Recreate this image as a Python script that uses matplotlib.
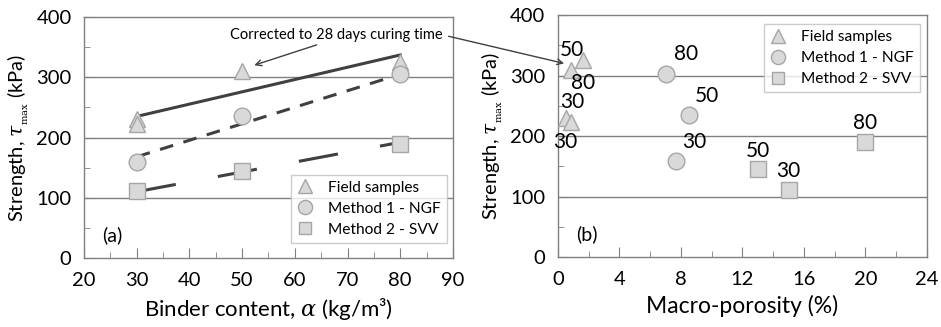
import numpy as np
import matplotlib
matplotlib.use('Agg')
import matplotlib.pyplot as plt
from matplotlib.patches import ConnectionPatch
from matplotlib.ticker import MultipleLocator

plt.rcParams['font.family'] = ['Lato', 'DejaVu Sans']
plt.rcParams['mathtext.fontset'] = 'dejavuserif'

# panel (a): strength vs binder content
binder_field = [30, 30, 50, 80]
field_a = [230, 222, 310, 325]
binder_m = [30, 50, 80]
ngf_a = [160, 235, 305]
svv_a = [112, 145, 190]

# trend lines (corrected to 28 days)
trend_x = [30, 80]
trend_field = [235, 337]
trend_ngf = [168, 305]
trend_svv = [110, 192]

# panel (b): strength vs macro-porosity
poro_field = [0.55, 0.87, 0.87, 1.65]
field_b = [230, 223, 309, 325]
field_lbl = ['30', '30', '50', '80']
field_lbl_xy = [(0.5, 190), (0.9, 257), (0.9, 343), (1.65, 287)]
poro_ngf = [7.7, 8.5, 7.05]
ngf_b = [159, 234, 303]
ngf_lbl = ['30', '50', '80']
ngf_lbl_xy = [(8.85, 190), (9.7, 266), (8.3, 335)]
poro_svv = [15.0, 13.0, 20.0]
svv_b = [110, 145, 190]
svv_lbl = ['30', '50', '80']
svv_lbl_xy = [(15.0, 143), (13.0, 176), (20.0, 222)]

fill = '#d9d9d9'
edge = '#a6a6a6'
dark = '#404040'
grey = '#808080'

fig = plt.figure(figsize=(9.41, 3.27), dpi=100)
ax1 = fig.add_axes([0.0893, 0.211, 0.392, 0.737])
ax2 = fig.add_axes([0.593, 0.214, 0.392, 0.740])

def style(ax):
    for s in ax.spines.values():
        s.set_color(grey)
        s.set_linewidth(1.0)
    ax.tick_params(which='both', direction='in', color=grey, labelsize=14.5,
                   top=False, right=False)
    ax.tick_params(axis='x', pad=10)
    ax.tick_params(axis='y', pad=9)
    ax.tick_params(which='major', length=7)
    ax.tick_params(which='minor', length=4)
    ax.set_ylim(0, 400)
    ax.yaxis.set_major_locator(MultipleLocator(100))
    ax.yaxis.set_minor_locator(MultipleLocator(50))
    for yv in [100, 200, 300]:
        ax.axhline(yv, color=grey, lw=1.0, zorder=1)
    ax.set_ylabel(r'Strength, $\tau_{_{\rm max}}$ (kPa)', fontsize=14.5, labelpad=4)

mk = dict(mfc=fill, mec=edge, mew=1.0, ls='none', zorder=3)
legkw = dict(fontsize=11.2, frameon=True, fancybox=False, edgecolor='#c0c0c0',
             handlelength=1.0, handletextpad=1.0, labelspacing=0.45, borderpad=0.4,
             borderaxespad=0.0, markerscale=0.85)

# (a)
style(ax1)
ax1.set_xlim(20, 90)
ax1.xaxis.set_major_locator(MultipleLocator(10))
ax1.xaxis.set_minor_locator(MultipleLocator(5))
ax1.plot(trend_x, trend_field, color=dark, lw=2.2, zorder=2)
ax1.plot(trend_x, trend_ngf, color=dark, lw=2.2, dashes=(4.5, 3.5), zorder=2)
ax1.plot(trend_x, trend_svv, color=dark, lw=2.2, dashes=(13, 14), zorder=2)
ax1.plot(binder_field, field_a, marker='^', ms=12, label='Field samples', **mk)
ax1.plot(binder_m, ngf_a, marker='o', ms=12, label='Method 1 - NGF', **mk)
ax1.plot(binder_m, svv_a, marker='s', ms=11, label='Method 2 - SVV', **mk)
ax1.set_xlabel(r'Binder content, $\alpha$ (kg/m³)', fontsize=16, labelpad=5)
ax1.text(23.5, 28, '(a)', fontsize=14)
leg = ax1.legend(loc='lower right', bbox_to_anchor=(0.984, 0.062), **legkw)
leg.get_frame().set_linewidth(1.0)
ax1.annotate('Corrected to 28 days curing time', xy=(52.3, 320), xytext=(67.8, 370),
             fontsize=10.5, ha='center', va='center',
             arrowprops=dict(arrowstyle='->', color=dark, lw=1.0,
                             shrinkA=0, shrinkB=0, relpos=(0.45, 0.0)))

# (b)
style(ax2)
ax2.set_xlim(0, 24)
ax2.xaxis.set_major_locator(MultipleLocator(4))
ax2.xaxis.set_minor_locator(MultipleLocator(2))
ax2.plot(poro_field, field_b, marker='^', ms=12, label='Field samples', **mk)
ax2.plot(poro_ngf, ngf_b, marker='o', ms=12, label='Method 1 - NGF', **mk)
ax2.plot(poro_svv, svv_b, marker='s', ms=11, label='Method 2 - SVV', **mk)
for lbls, pos in [(field_lbl, field_lbl_xy), (ngf_lbl, ngf_lbl_xy), (svv_lbl, svv_lbl_xy)]:
    for t, (x, y) in zip(lbls, pos):
        ax2.text(x, y, t, fontsize=15, ha='center', va='center', zorder=4)
ax2.set_xlabel('Macro-porosity (%)', fontsize=16.5, labelpad=5)
ax2.text(1.2, 28, '(b)', fontsize=14)
leg2 = ax2.legend(loc='upper right', bbox_to_anchor=(0.981, 0.963), **legkw)
leg2.get_frame().set_linewidth(1.0)

con = ConnectionPatch(xyA=(89.2, 368), coordsA=ax1.transData,
                      xyB=(0.4, 320), coordsB=ax2.transData,
                      arrowstyle='->', color=dark, lw=1.0)
fig.add_artist(con)

fig.savefig('out.png', dpi=100)
